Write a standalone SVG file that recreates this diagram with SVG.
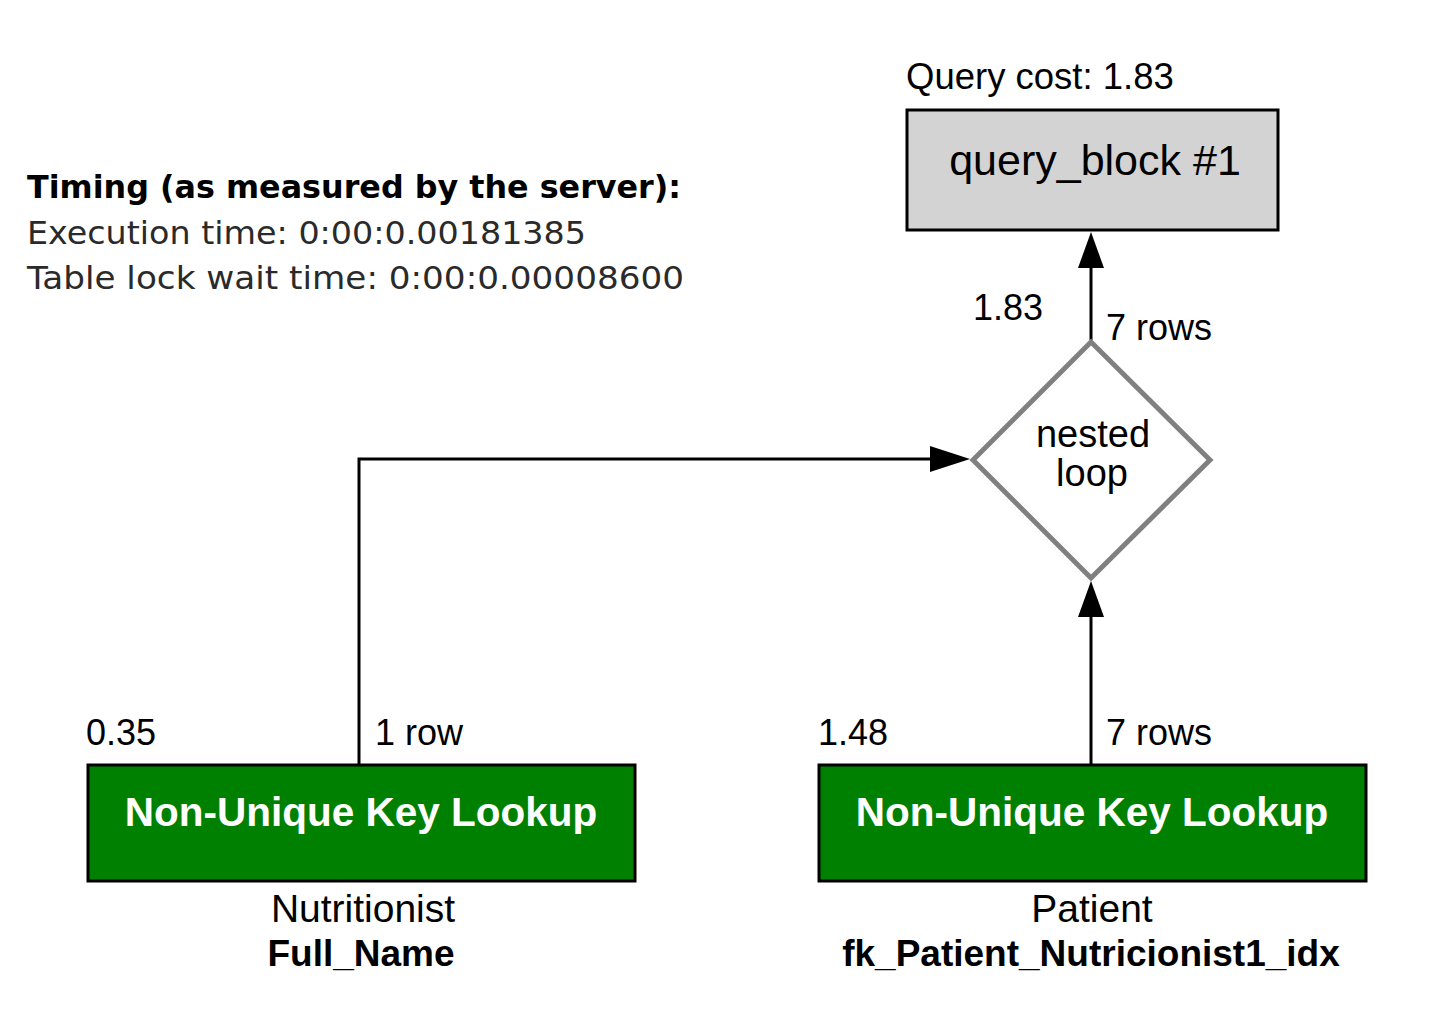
<svg xmlns="http://www.w3.org/2000/svg" width="1452" height="1012" viewBox="0 0 1452 1012">
<defs>
<style>
text{font-family:"Liberation Sans",Arial,Helvetica,sans-serif;fill:#000}
.lbl{font-size:36px}
.box{stroke:#000;stroke-width:3}
.green{fill:#008000}
.gtxt{fill:#fff;font-weight:bold;font-size:40.5px}
.sub{font-size:39px}
.bold{font-weight:bold;font-size:37px}
.edge{stroke:#000;stroke-width:3;fill:none}
.timing{font-family:"DejaVu Sans","Liberation Sans",sans-serif;font-size:32px;fill:#2a2a2a}
.nl{font-size:38px}
</style>
</defs>
<rect width="1452" height="1012" fill="#fff"/>

<g id="timing">
<text x="27" y="198" class="timing" style="fill:#000;font-weight:bold" textLength="654" lengthAdjust="spacingAndGlyphs">Timing (as measured by the server):</text>
<text x="27" y="244" class="timing" textLength="559" lengthAdjust="spacingAndGlyphs">Execution time: 0:00:0.00181385</text>
<text x="27" y="289" class="timing" textLength="657" lengthAdjust="spacingAndGlyphs">Table lock wait time: 0:00:0.00008600</text>
</g>

<g id="connectors">
<line x1="1091" y1="340" x2="1091" y2="262" class="edge"/>
<path d="M1091,232 L1104,268 L1078,268 Z" fill="#000"/>
<polyline points="359,764 359,459 932,459" class="edge"/>
<path d="M970,459 L930,446 L930,472 Z" fill="#000"/>
<line x1="1091" y1="764" x2="1091" y2="615" class="edge"/>
<path d="M1091,581 L1104,617 L1078,617 Z" fill="#000"/>
<text x="973" y="320" class="lbl">1.83</text>
<text x="1106" y="340" class="lbl">7 rows</text>
<text x="86" y="745" class="lbl">0.35</text>
<text x="375" y="745" class="lbl">1 row</text>
<text x="818" y="745" class="lbl">1.48</text>
<text x="1106" y="745" class="lbl">7 rows</text>
</g>

<g id="query_block">
<text x="906" y="89" style="font-size:36.5px">Query cost: 1.83</text>
<rect x="907" y="110" width="371" height="120" fill="#d3d3d3" class="box"/>
<text x="1095" y="175" text-anchor="middle" style="font-size:43px">query_block #1</text>
</g>

<g id="nested_loop">
<polygon points="1091,342 1210,460 1091,578 973,460" fill="#fff" stroke="#808080" stroke-width="5"/>
<text x="1093" y="447" text-anchor="middle" class="nl">nested</text>
<text x="1092" y="486" text-anchor="middle" class="nl">loop</text>
</g>

<g id="lookup_nutritionist">
<rect x="88" y="765" width="547" height="116" class="box green"/>
<text x="361" y="826" text-anchor="middle" class="gtxt">Non-Unique Key Lookup</text>
<text x="363" y="922" text-anchor="middle" class="sub">Nutritionist</text>
<text x="361" y="966" text-anchor="middle" class="bold">Full_Name</text>
</g>

<g id="lookup_patient">
<rect x="819" y="765" width="547" height="116" class="box green"/>
<text x="1092" y="826" text-anchor="middle" class="gtxt">Non-Unique Key Lookup</text>
<text x="1092" y="922" text-anchor="middle" class="sub">Patient</text>
<text x="1091" y="966" text-anchor="middle" class="bold">fk_Patient_Nutricionist1_idx</text>
</g>
</svg>
